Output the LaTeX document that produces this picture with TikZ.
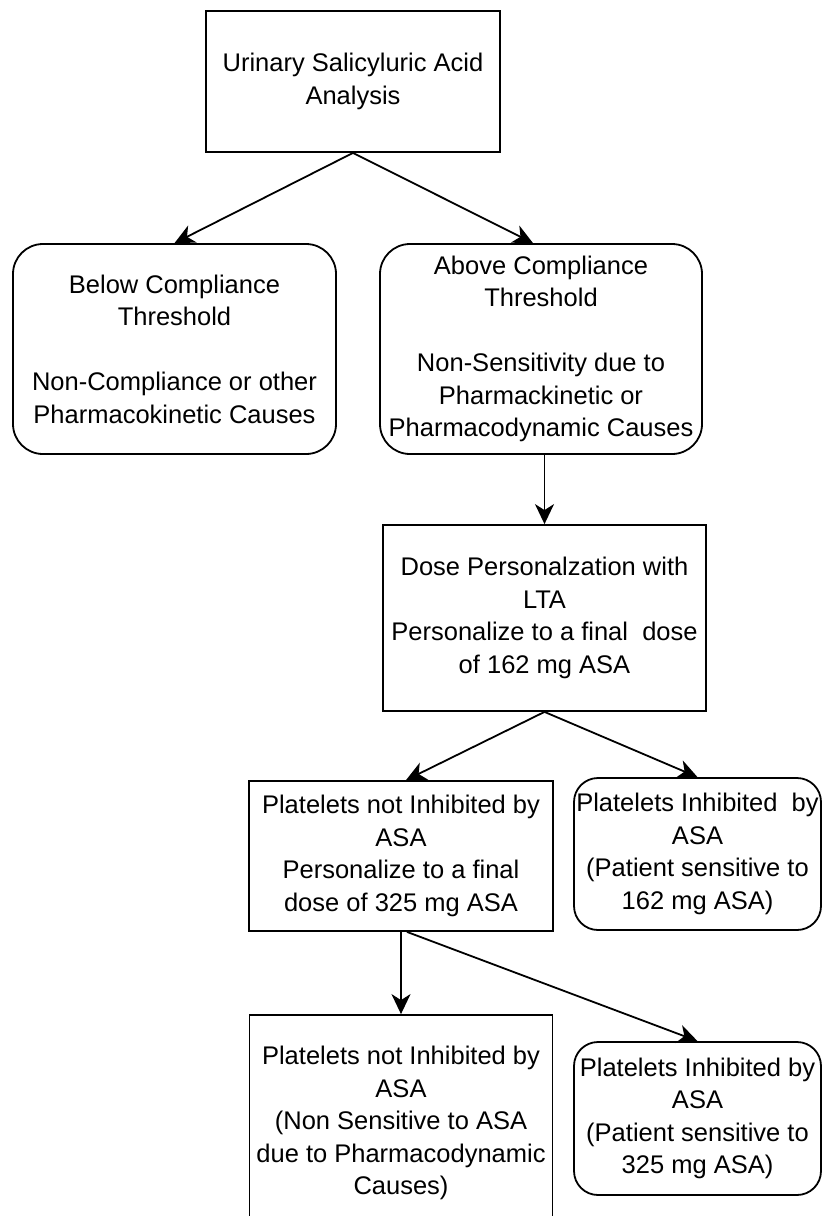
\documentclass[tikz,border=0pt]{standalone}
\usepackage{fontspec}
\setmainfont{Liberation Sans}
\usetikzlibrary{arrows.meta}
\begin{document}
\begin{tikzpicture}[x=1pt,y=-1pt,
  box/.style={draw=black, line width=1.8pt, align=center, inner sep=0pt, fill=white,
    font=\fontsize{25.5}{32.5}\selectfont},
  rbox/.style={box, rounded corners=30pt},
  srbox/.style={box, rounded corners=24pt},
  arr/.style={-{Stealth[length=20pt,width=19pt,inset=6pt]}, line width=1.8pt}]
\path[use as bounding box] (0,0) rectangle (823,1216);
\clip (0,0) rectangle (823,1216);
\fill[white] (0,0) rectangle (823,1216);

\node[box, minimum width=294pt, minimum height=141pt] (b1) at (353,81.5)
  {Urinary Salicyluric Acid\\Analysis};
\node[rbox, minimum width=323pt, minimum height=210pt] (b2) at (174.5,349)
  {Below Compliance\\Threshold\\[32.5pt]Non-Compliance or other\\Pharmacokinetic Causes};
\node[rbox, minimum width=322pt, minimum height=210pt] (b3) at (541,349)
  {Above Compliance\\Threshold\\[32.5pt]Non-Sensitivity due to\\Pharmackinetic or\\Pharmacodynamic Causes};
\node[box, minimum width=323pt, minimum height=186pt] (b4) at (544.5,618)
  {Dose Personalzation with\\LTA\\Personalize to a final\ \ dose\\of 162 mg ASA};
\node[box, minimum width=304pt, minimum height=150pt] (b5) at (401,856)
  {Platelets not Inhibited by\\ASA\\Personalize to a final\\dose of 325 mg ASA};
\node[srbox, minimum width=247pt, minimum height=152pt] (b6) at (697.5,854)
  {Platelets Inhibited\ \ by\\ASA\\(Patient sensitive to\\162 mg ASA)};
\node[box, minimum width=303pt, minimum height=216pt] (b7) at (401,1123)
  {Platelets not Inhibited by\\ASA\\(Non Sensitive to ASA\\due to Pharmacodynamic\\Causes)};
\node[srbox, minimum width=247pt, minimum height=153pt] (b8) at (697.5,1118.5)
  {Platelets Inhibited by\\ASA\\(Patient sensitive to\\325 mg ASA)};

\draw[arr] (b1.south) -- (b2.north);
\draw[arr] (b1.south) -- ([xshift=-8pt]b3.north);
\draw[arr] (b4.north |- b3.south) -- (b4.north);
\draw[arr] (b4.south) -- ([xshift=5pt]b5.north);
\draw[arr] (b4.south) -- (b6.north);
\draw[arr] (b7.north |- b5.south) -- (b7.north);
\draw[arr] ([xshift=6pt]b5.south) -- (b8.north);
\end{tikzpicture}
\end{document}
